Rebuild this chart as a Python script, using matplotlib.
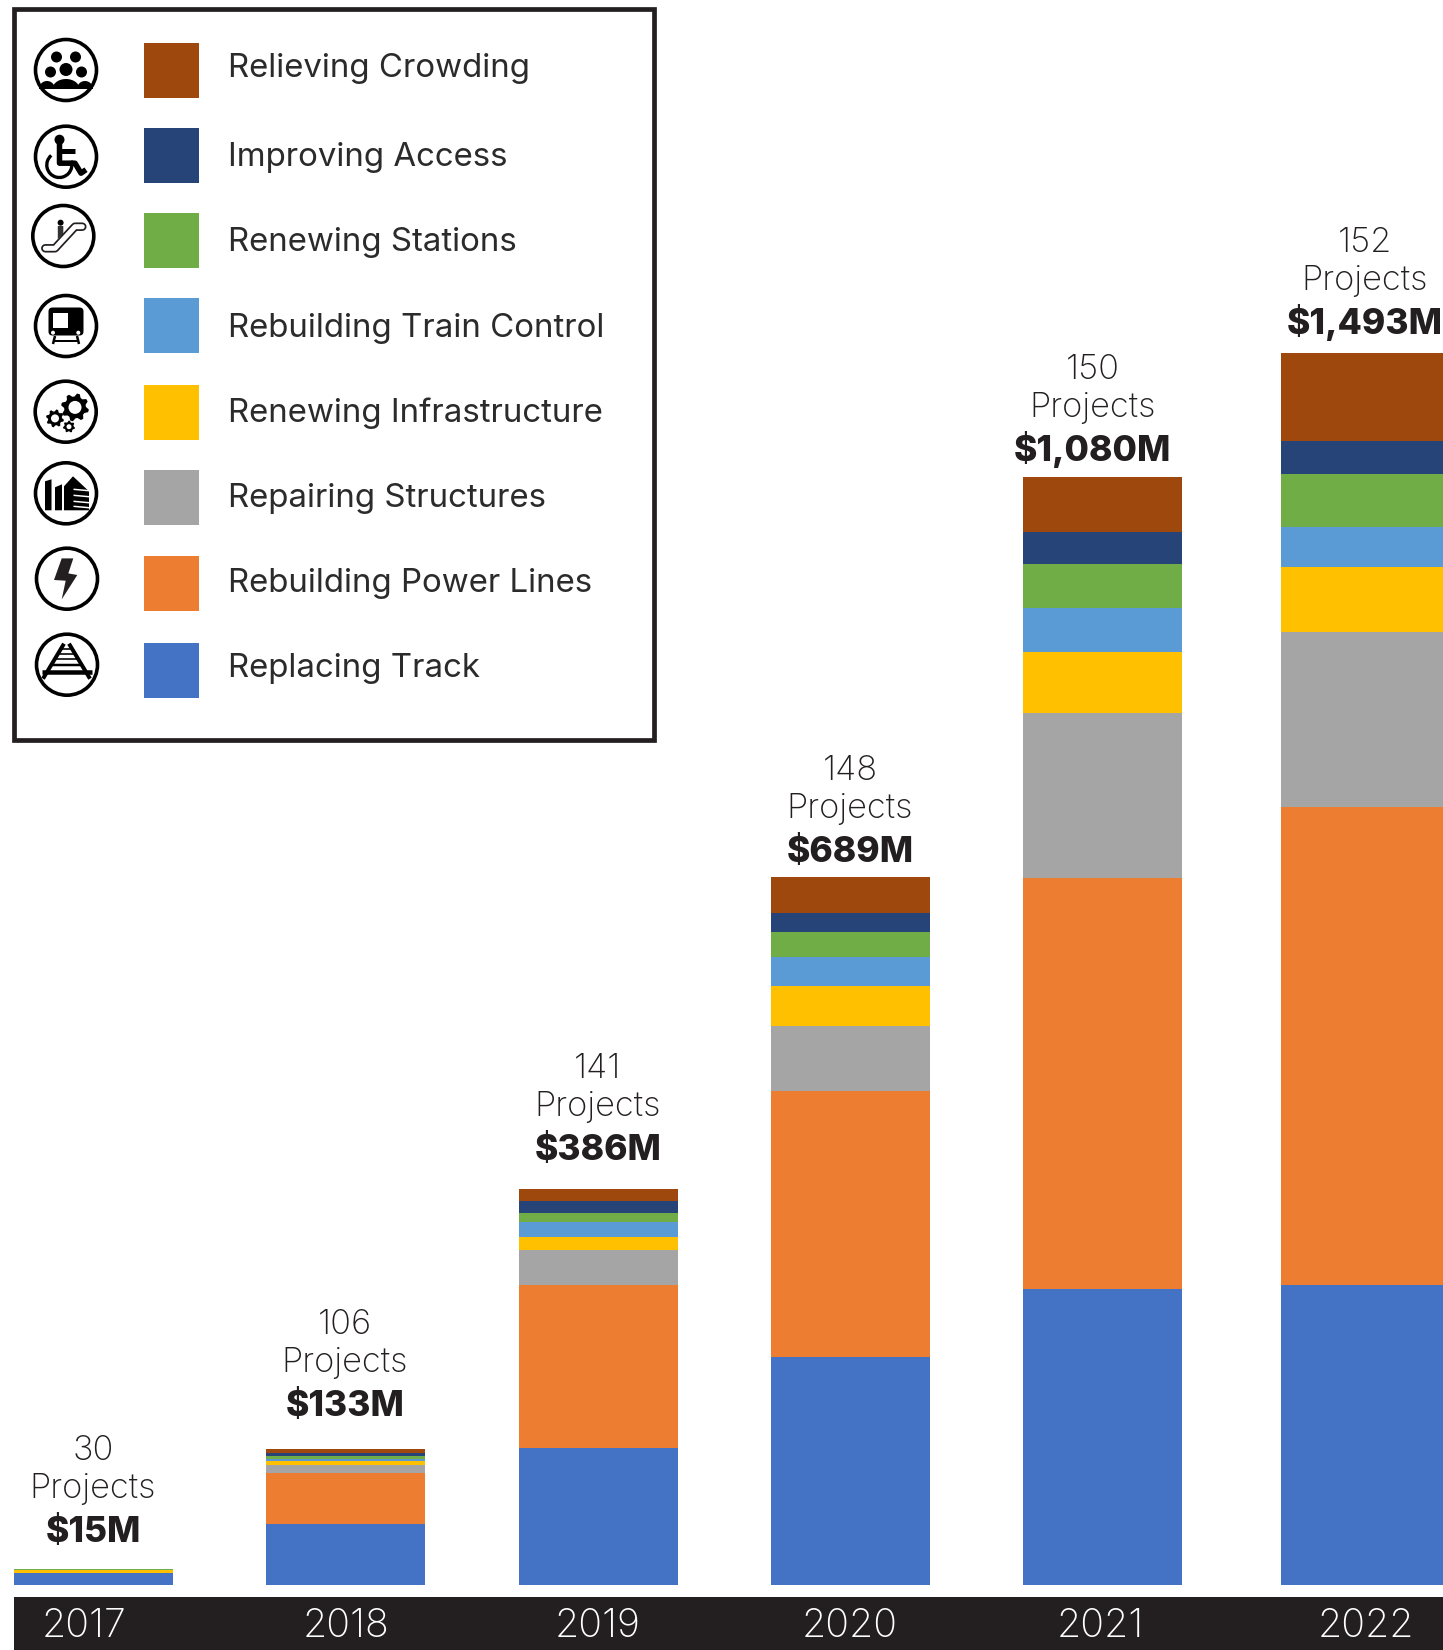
import numpy as np
import matplotlib
matplotlib.use('Agg')
import matplotlib.pyplot as plt
from matplotlib.patches import Rectangle, Circle, Polygon, FancyBboxPatch, Arc

# bar segment heights, bottom to top
years = [2017, 2018, 2019, 2020, 2021, 2022]
replacing_track = [11.7, 61.3, 137.3, 228.3, 296.3, 300.0]
rebuilding_power = [0.5, 51.0, 162.4, 266.0, 410.4, 478.0]
repairing_structures = [0.3, 7.7, 35.6, 65.0, 165.0, 175.0]
renewing_infra = [2.4, 3.7, 12.7, 39.7, 61.6, 65.0]
train_control = [0.3, 2.3, 15.0, 28.7, 43.7, 39.7]
renewing_stations = [1.0, 3.0, 9.0, 25.0, 43.7, 53.3]
improving_access = [0.0, 3.0, 11.7, 19.6, 32.0, 33.0]
relieving_crowding = [0.0, 4.0, 12.3, 35.4, 55.6, 88.0]

project_counts = ['30', '106', '141', '148', '150', '152']
totals = ['$15M', '$133M', '$386M', '$689M', '$1,080M', '$1,493M']

legend_names = ['Relieving Crowding', 'Improving Access', 'Renewing Stations',
                'Rebuilding Train Control', 'Renewing Infrastructure',
                'Repairing Structures', 'Rebuilding Power Lines', 'Replacing Track']
legend_colors = ['#9E480E', '#264478', '#70AD47', '#5B9BD5', '#FFC000', '#A5A5A5', '#ED7D31', '#4472C4']

DARK = '#231F20'
FONT = 'Inter'

fig = plt.figure(figsize=(14.43, 16.5), dpi=100, facecolor='white')

# bars, one y unit is one pixel, years are 252.25 px apart
ax = fig.add_axes([0, 0, 1, 1])
step = 252.25
ax.set_xlim(2017 - 93.5 / step, 2017 + (1443 - 93.5) / step)
ax.set_ylim(-65, 1585)
ax.axis('off')

bar_x = np.array(years, dtype=float)
bar_x[-1] += 7.5 / step
widths = np.full(6, 159 / step)
widths[-1] = 162 / step

stack = [replacing_track, rebuilding_power, repairing_structures, renewing_infra,
         train_control, renewing_stations, improving_access, relieving_crowding]
bottom = np.zeros(6)
for vals, col in zip(stack, legend_colors[::-1]):
    ax.bar(bar_x, vals, width=widths, bottom=bottom, color=col, linewidth=0)
    bottom += np.array(vals)

# overlay in pixel coordinates for the band, labels and legend
ov = fig.add_axes([0, 0, 1, 1])
ov.set_xlim(0, 1443)
ov.set_ylim(1650, 0)
ov.axis('off')
ov.patch.set_alpha(0)


def t(x, y, s, size_px, weight='light', color=DARK, ha='center'):
    return ov.text(x, y, s, fontsize=size_px * 0.72, fontweight=weight, color=color,
                   ha=ha, va='baseline', family=FONT, clip_on=True)


ov.add_patch(Rectangle((14, 1597), 1429, 53, fc=DARK, ec='none'))
year_x = [84, 346, 598, 849.5, 1100.5, 1365.5]
for x, y in zip(year_x, years):
    t(x, 1637, str(y), 39.5, color='white')

label_x = [93, 345, 598, 850, 1092.5, 1365]
label_y = [1498, 1372, 1116, 818, 417, 290]
for x, y, n, tot in zip(label_x, label_y, project_counts, totals):
    t(x, y - 38.3, n, 34.5)
    t(x, y, 'Projects', 34.5)
    t(x, y + 44.4, tot, 35.5, weight=800)

# legend box
ov.add_patch(Rectangle((14.3, 9), 639.7, 731, fc='white', ec=DARK, lw=3.4, zorder=3))
swatch_y = [43, 128, 213, 298, 385, 470, 556, 643]
text_y = [77.3, 166, 250.7, 336.7, 421.7, 506.7, 591.7, 676.7]
for y, ty, name, col in zip(swatch_y, text_y, legend_names, legend_colors):
    ov.add_patch(Rectangle((144, y), 55, 55, fc=col, ec='none', zorder=4))
    t(228, ty, name, 33, weight='normal', color='#2b2b2b', ha='left').set_zorder(4)

centers = [(66, 70), (66, 156.7), (63.3, 236), (66, 326), (65.7, 411.7), (66, 493.3), (67, 578.7), (67, 664.7)]
for cx, cy in centers:
    ov.add_patch(Circle((cx, cy), 30.5, fc='white', ec='black', lw=2.6, zorder=5))


def add(p):
    p.set_zorder(6)
    ov.add_patch(p)
    return p


def disc(cx, cy, x, y, r, col='black'):
    add(Circle((cx + x, cy + y), r, fc=col, ec='none'))


def poly(cx, cy, pts, col='black'):
    add(Polygon([(cx + a, cy + b) for a, b in pts], closed=True, fc=col, ec='none'))


def seg(cx, cy, pts, lw, col='black', cap='butt'):
    xs = [cx + a for a, b in pts]
    ys = [cy + b for a, b in pts]
    ov.plot(xs, ys, color=col, lw=lw * 0.72, solid_capstyle=cap, solid_joinstyle='round', zorder=6)


def dome(cx, cy, x, y, w, h):
    a = np.linspace(np.pi, 2 * np.pi, 30)
    pts = [(x + w * np.cos(v), y + h * np.sin(v)) for v in a]
    poly(cx, cy, pts)


def gear(cx, cy, x, y, r, hole, teeth):
    a = np.linspace(0, 2 * np.pi, teeth * 4, endpoint=False) + 0.15
    rad = np.tile([r, r, r * 0.78, r * 0.78], teeth)
    poly(cx, cy, [(x + q * np.cos(v), y + q * np.sin(v)) for q, v in zip(rad, a)])
    disc(cx, cy, x, y, hole, 'white')


# crowd
cx, cy = centers[0]
for x, y, r in [(-9.5, -13, 5.5), (9.5, -13, 5.5), (-15.5, 2, 5.5), (15.5, 2, 5.5), (0, -0.5, 6.5)]:
    disc(cx, cy, x, y, r)
dome(cx, cy, -19, 19, 8, 8)
dome(cx, cy, 19, 19, 8, 8)
dome(cx, cy, 0, 19, 13.5, 10)

# wheelchair
cx, cy = centers[1]
disc(cx, cy, -6.5, -17, 5)
seg(cx, cy, [(-6.5, -14), (-6.5, 6.5), (9, 6.5), (15, 16.5), (20, 13)], 5.5)
seg(cx, cy, [(-6.5, -5.5), (9, -5.5)], 5)
ov.add_patch(Arc((cx - 6.7, cy + 8.3), 25, 25, theta1=-20, theta2=230, ec='black', lw=2.4, zorder=6))

# escalator
cx, cy = centers[2]
disc(cx, cy, -2.7, -13.3, 3)
poly(cx, cy, [(-5.5, -10), (0, -10), (0, -2), (-5.5, 3)], '#333333')
rail = [(-18, 12.3), (-8.3, 12.3), (11.7, -9.3), (19, -9.3)]
seg(cx, cy, rail, 8.5, '#231F20', 'round')
seg(cx, cy, rail, 5, 'white', 'round')

# train
cx, cy = centers[3]
add(FancyBboxPatch((cx - 16, cy - 17), 32, 25, boxstyle='round,pad=1.5,rounding_size=4', fc='black', ec='none'))
poly(cx, cy, [(-13, -13), (2, -13), (2, 1.5), (-13, 1.5)], 'white')
disc(cx, cy, -13, 6.7, 2, 'white')
disc(cx, cy, 12.3, 6.7, 2, 'white')
seg(cx, cy, [(-11, 10), (-13, 18)], 2.5)
seg(cx, cy, [(11, 10), (13, 18)], 2.5)
seg(cx, cy, [(-12, 14.5), (12, 14.5)], 2)

# gears
cx, cy = centers[4]
gear(cx, cy, 9.3, -4.3, 14, 6.5, 8)
gear(cx, cy, -10.7, 6.7, 9, 4, 8)
gear(cx, cy, 3.3, 15, 6, 2.5, 7)

# buildings
cx, cy = centers[5]
poly(cx, cy, [(-21, -12), (-14.5, -14), (-14.5, 17), (-21, 17)])
poly(cx, cy, [(-11, -6), (-4, -9), (-4, 17), (-11, 17)])
poly(cx, cy, [(-2, -7), (7, -17), (23, -2), (23, 17), (-2, 17)])
for y in [-4, 2, 8, 13]:
    seg(cx, cy, [(7.5, y), (24, y + 1.5)], 1.5, 'white')

# power bolt
cx, cy = centers[6]
poly(cx, cy, [(-5.3, -20.3), (6.3, -20.3), (1.3, -5.3), (10.3, -3.7), (-5.3, 20.7), (-1.3, 2), (-13, 1.3)], DARK)

# track
cx, cy = centers[7]
seg(cx, cy, [(-3, -21), (-24, 14)], 4)
seg(cx, cy, [(2, -21), (23, 14)], 4)
for y, w, hw in [(-16, 1.6, 5), (-11, 1.6, 8), (-6, 1.6, 11), (0, 2.5, 15), (7, 4.5, 25)]:
    seg(cx, cy, [(-hw, y), (hw, y)], w)

fig.savefig('out.png', dpi=100, facecolor='white')
